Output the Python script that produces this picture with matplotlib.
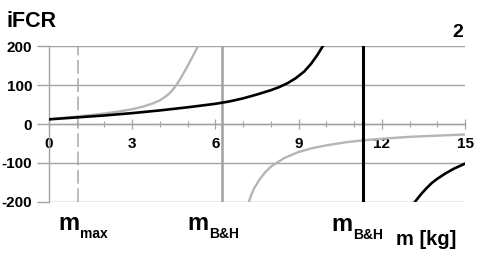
import matplotlib
matplotlib.use("Agg")
import matplotlib.pyplot as plt
from matplotlib.ticker import MultipleLocator

plt.rcParams['font.family'] = ['Liberation Sans', 'DejaVu Sans']
plt.rcParams['font.weight'] = 'bold'

# ---- data ----
gray_left_x = [0, 1, 2, 2.5, 3, 3.4, 3.75, 4, 4.15, 4.3, 4.45, 4.6, 4.75, 4.95, 5.15, 5.37]
gray_left_y = [12, 19, 27, 32, 38, 45, 53, 61, 68, 76, 87, 101, 118, 143, 170, 200]
gray_right_x = [7.21, 7.3, 7.4, 7.6, 7.8, 8.0, 8.21, 8.5, 9, 9.5, 10, 10.7, 11.34, 12, 13, 14, 15]
gray_right_y = [-200, -181, -165, -142, -124, -110, -100, -87, -72, -62, -55, -47, -42, -38, -33, -30, -27]
black_left_x = [0, 1, 2, 3, 4, 5, 6, 6.5, 7, 7.5, 8, 8.3, 8.6, 8.9, 9.2, 9.45, 9.67, 9.87]
black_left_y = [12, 17, 22, 28, 35, 43, 52, 58, 66, 76, 87, 95, 105, 118, 135, 155, 177, 200]
black_right_x = [13.2, 13.4, 13.6, 13.8, 14.0, 14.3, 14.6, 15]
black_right_y = [-200, -182, -166, -152, -141, -127, -115, -102]

m_max = 1.05
m_bh_gray = 6.23
m_bh_black = 11.33

x_ticks = [0, 3, 6, 9, 12, 15]
y_ticks = [-200, -100, 0, 100, 200]

W, H = 480, 258
fig = plt.figure(figsize=(W / 100, H / 100), dpi=100)
ax = fig.add_axes([49 / W, 1 - 201.7 / H, (465 - 49) / W, (201.7 - 46.3) / H])

grid_c = '#a3a3a3'
ax.set_xlim(0, 15)
ax.set_ylim(-200, 200)

for y in y_ticks:
    ax.axhline(y, color=grid_c, lw=1.0, zorder=1)

ax.axvline(m_max, color='#a8a8a8', lw=1.1, ls=(0, (9, 3)), zorder=2)
ax.axvline(m_bh_gray, color='#a0a0a0', lw=1.8, zorder=2)
ax.axvline(m_bh_black, color='black', lw=2.2, zorder=4)

ax.plot(gray_left_x, gray_left_y, color='#b5b5b5', lw=1.7, zorder=3)
ax.plot(gray_right_x, gray_right_y, color='#b5b5b5', lw=1.7, zorder=3)
ax.plot(black_left_x, black_left_y, color='black', lw=1.9, zorder=3)
ax.plot(black_right_x, black_right_y, color='black', lw=1.9, zorder=3)

for s in ['top', 'right']:
    ax.spines[s].set_visible(False)
ax.spines['left'].set_color(grid_c)
ax.spines['left'].set_linewidth(1.0)
ax.spines['bottom'].set_position(('data', 0))
ax.spines['bottom'].set_color(grid_c)
ax.spines['bottom'].set_linewidth(1.0)

ax.set_xticks(x_ticks)
ax.set_xticklabels([str(v) for v in x_ticks])
ax.xaxis.set_minor_locator(MultipleLocator(1))
ax.tick_params(axis='x', which='major', direction='inout', length=7, width=0.9,
               color=grid_c, pad=6, labelsize=11)
ax.tick_params(axis='x', which='minor', direction='inout', length=5, width=0.8,
               color=grid_c)
ax.set_yticks(y_ticks)
ax.set_yticklabels([str(v) for v in y_ticks])
ax.tick_params(axis='y', direction='out', length=9, width=1.0, color=grid_c,
               pad=3, labelsize=11)
for lab in ax.get_xticklabels() + ax.get_yticklabels():
    lab.set_fontweight('bold')

def ftext(x, y, s, size, **kw):
    fig.text(x / W, 1 - y / H, s, fontsize=size, fontweight='bold', va='baseline', **kw)

ftext(7, 27, 'iFCR', 15.5)
ftext(463, 37, '2', 14, ha='right')

ftext(58, 230, 'm', 17)
ftext(80, 238, 'max', 10)
ftext(187, 230, 'm', 17)
ftext(209, 238, 'B&H', 10)
ftext(331, 231, 'm', 17)
ftext(353, 239, 'B&H', 10)
ftext(396, 245, 'm [kg]', 14.5)

fig.savefig('out.png', dpi=100)
